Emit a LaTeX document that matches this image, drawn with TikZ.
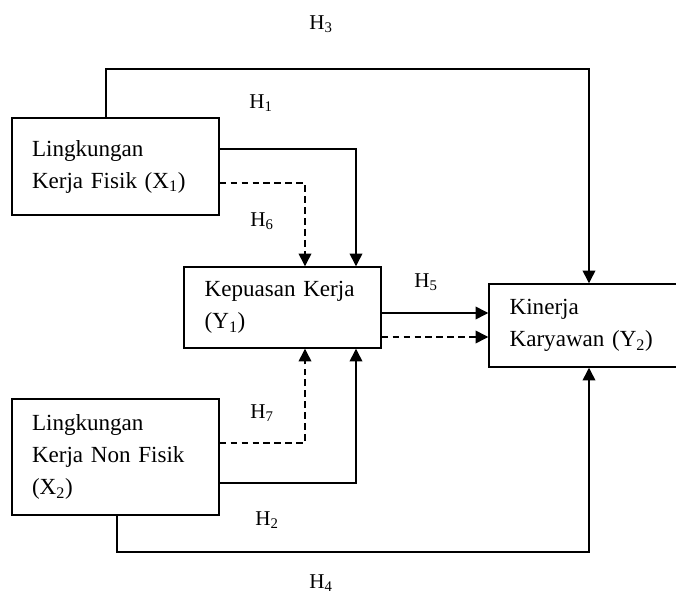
\documentclass[tikz,border=0pt]{standalone}
\usepackage{fontspec}
\setmainfont{Liberation Serif}
\usetikzlibrary{arrows.meta}
\begin{document}
\begin{tikzpicture}[x=0.75pt,y=-0.75pt,
  every node/.style={font=\fontsize{15.8}{24}\selectfont},
  box/.style={draw,line width=1.1pt,rectangle,align=left,inner ysep=2pt,font=\fontsize{17.3}{24}\selectfont},
  lbl/.style={inner sep=0pt},
  conn/.style={line width=1.1pt},
  arr/.style={conn,-{Triangle[length=9.5pt,width=9.5pt]}},
  dsh/.style={dash pattern=on 5pt off 3.2pt}]
\clip (0,0) rectangle (676,596);
\fill[white] (0,0) rectangle (676,596);
% boxes
\node[box,minimum width=155.25pt,minimum height=72.75pt,inner xsep=15pt,text width=125.25pt] (x1) at (115.5,166.5) {Lingkungan\\Kerja Fisik (X\textsubscript{1})};
\node[box,minimum width=147.75pt,minimum height=60.75pt,inner xsep=15.5pt,text width=116.75pt] (y1) at (282.5,307.5) {Kepuasan Kerja\\(Y\textsubscript{1})};
\node[box,minimum width=147.75pt,minimum height=62.25pt,inner xsep=15.5pt,text width=116.75pt] (y2) at (587.5,325.5) {Kinerja\\Karyawan (Y\textsubscript{2})};
\node[box,minimum width=155.25pt,minimum height=87pt,inner xsep=15pt,text width=125.25pt] (x2) at (115.5,457) {Lingkungan\\Kerja Non Fisik\\(X\textsubscript{2})};
% bend coordinates
\coordinate (h3a) at (106,69);
\coordinate (h3b) at (589,69);
\coordinate (h1c) at (356,149);
\coordinate (h6c) at (305,183);
\coordinate (h5a) at (430,313);
\coordinate (h5b) at (430,337);
\coordinate (h7c) at (305,443);
\coordinate (h2c) at (356,483);
\coordinate (h4a) at (117,552);
\coordinate (h4b) at (589,552);
% connectors
\draw[arr] (x1.north -| h3a) -- (h3a) -- (h3b) -- (y2.north -| h3b);
\draw[arr] (x1.east |- h1c) -- (h1c) -- (y1.north -| h1c);
\draw[arr,dsh] (x1.east |- h6c) -- (h6c) -- (y1.north -| h6c);
\draw[arr] (y1.east |- h5a) -- (y2.west |- h5a);
\draw[arr,dsh] (y1.east |- h5b) -- (y2.west |- h5b);
\draw[arr,dsh] (x2.east |- h7c) -- (h7c) -- (y1.south -| h7c);
\draw[arr] (x2.east |- h2c) -- (h2c) -- (y1.south -| h2c);
\draw[arr] (x2.south -| h4a) -- (h4a) -- (h4b) -- (y2.south -| h4b);
% labels
\node[lbl] (l3) at (321,24) {H\textsubscript{3}};
\node[lbl] (l1) at (261,103) {H\textsubscript{1}};
\node[lbl] (l6) at (262,221) {H\textsubscript{6}};
\node[lbl] (l5) at (426,282) {H\textsubscript{5}};
\node[lbl] (l7) at (262,413) {H\textsubscript{7}};
\node[lbl] (l2) at (267,520) {H\textsubscript{2}};
\node[lbl] (l4) at (321,583) {H\textsubscript{4}};
\end{tikzpicture}
\end{document}
